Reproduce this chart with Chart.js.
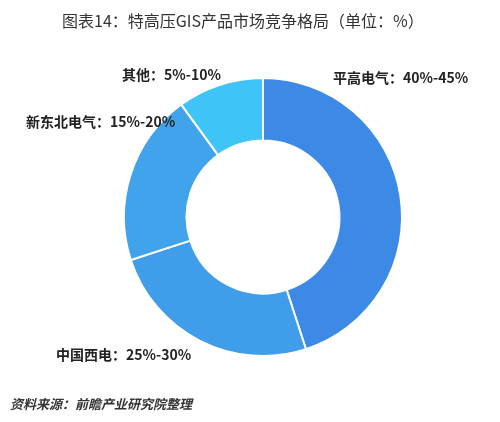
<!DOCTYPE html>
<html><head><meta charset="utf-8">
<script src="https://cdn.jsdelivr.net/npm/chart.js@4"></script>
<style>
body{margin:0;width:500px;height:422px;background:#fff;position:relative;overflow:hidden;font-family:"Noto Sans CJK SC",sans-serif}
#t{position:absolute;left:62px;top:8px;font-size:16px;color:#333;white-space:nowrap}
#s{position:absolute;left:10px;top:394px;font-size:13px;font-weight:bold;font-style:italic;color:#333}
#w{position:absolute;left:0;top:0;width:500px;height:422px}
</style></head><body>
<div id="w"><canvas id="c"></canvas></div>
<div id="t">图表14：特高压GIS产品市场竞争格局（单位：%）</div>
<div id="s">资料来源：前瞻产业研究院整理</div>
<script>
const categories = ['平高电气', '中国西电', '新东北电气', '其他'];
const shares = [45, 25, 20, 10];
const rangeLabels = ['40%-45%', '25%-30%', '15%-20%', '5%-10%'];
const colors = ['#3d8ae6', '#3f9de9', '#40a3eb', '#3fc4f8'];
// label offsets from chart centre (px): [dx, dy, align]
const labelPos = [[70, -139, 'left'], [-207, 138, 'left'], [-237, -95, 'left'], [-141, -142, 'left']];

const labelPlugin = {
  id: 'labels',
  afterDraw(chart) {
    const arc = chart.getDatasetMeta(0).data[0];
    const c = chart.ctx;
    c.save();
    c.font = 'bold 14px "Noto Sans CJK SC", sans-serif';
    c.fillStyle = '#222';
    c.textBaseline = 'middle';
    categories.forEach((name, i) => {
      const p = labelPos[i];
      c.textAlign = p[2];
      c.fillText(name + '：' + rangeLabels[i], arc.x + p[0], arc.y + p[1]);
    });
    c.restore();
  }
};

new Chart(document.getElementById('c'), {
  type: 'doughnut',
  data: {
    labels: categories,
    datasets: [{
      data: shares,
      backgroundColor: colors,
      borderColor: '#fff',
      borderWidth: 2
    }]
  },
  options: {
    responsive: true,
    maintainAspectRatio: false,
    animation: false,
    cutout: '55%',
    layout: { padding: { left: 122, right: 96, top: 77, bottom: 65 } },
    plugins: { legend: { display: false }, tooltip: { enabled: false } }
  },
  plugins: [labelPlugin]
});
</script>
</body></html>
